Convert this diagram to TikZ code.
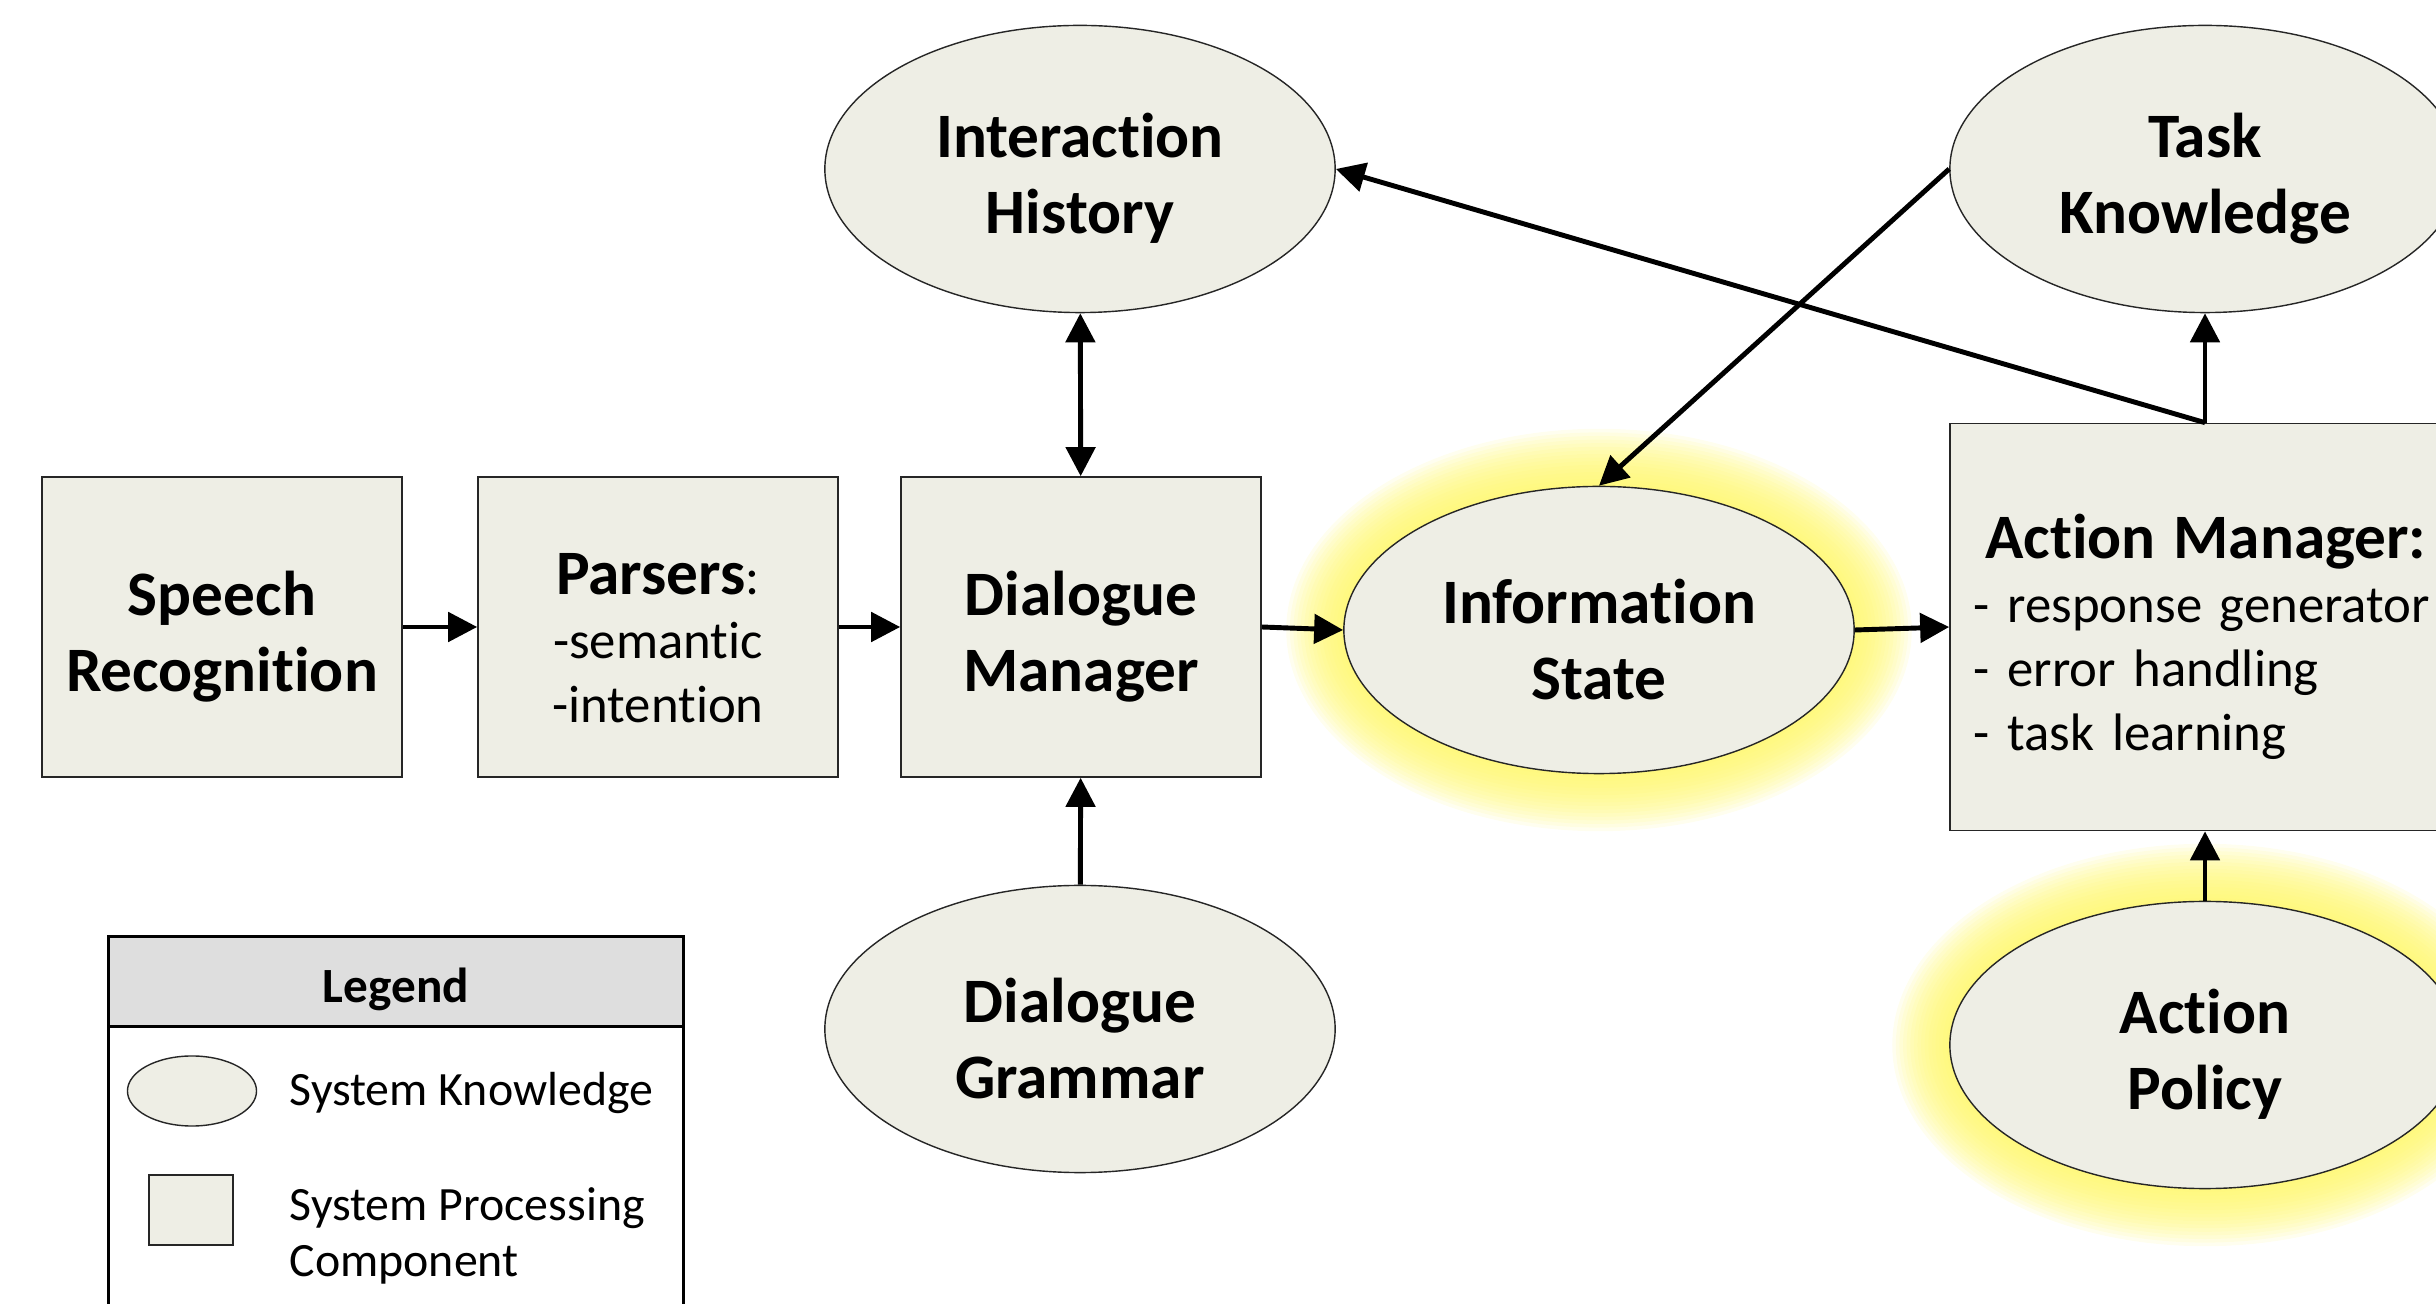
\documentclass[tikz,border=0pt]{standalone}
\usepackage{fontspec}
\setmainfont{Carlito}[Ligatures=NoCommon]
\usepackage{tikz}
\usetikzlibrary{shapes.geometric,arrows.meta}

\definecolor{boxfill}{RGB}{238,238,229}
\definecolor{legendhead}{RGB}{222,222,222}
\definecolor{glowyellow}{RGB}{255,247,100}

\newcommand{\bigbf}{\fontsize{18}{21.5}\selectfont\bfseries}
\newcommand{\midrm}{\fontsize{15}{18.2}\selectfont}
\newcommand{\legrm}{\fontsize{13.6}{15.9}\selectfont}

\begin{document}
\begin{tikzpicture}[x=0.01cm, y=-0.01cm,
    >={Triangle[length=0.29cm,width=0.29cm]},
    flow/.style={line width=1.4pt},
    lift/.style={execute at begin node={\rule{0pt}{#1}}},
    proc/.style={draw=black!85, line width=0.4pt, fill=boxfill, minimum width=3.6cm,
        minimum height=3cm, inner sep=0pt, text width=3.4cm, align=center},
    know/.style={ellipse, draw=black!85, line width=0.4pt, fill=boxfill, minimum width=5.1cm,
        minimum height=2.87cm, inner sep=0pt, text width=3.4cm, align=center}]
\useasboundingbox (0,0) rectangle (2436,1304);
\clip (0,0) rectangle (2436,1304);
% Glow round the highlighted ellipses
\foreach \cx/\cy in {1599/630, 2205/1045} {
    \foreach \g in {1,...,16}
        \fill[glowyellow, opacity=0.1] (\cx,\cy) ellipse [x radius={2.55cm+\g*0.036cm}, y radius={1.435cm+\g*0.036cm}];
}
% Processing components
\node[proc, lift=18pt, font=\bigbf] (sr) at (222,627) {Speech\\Recognition};
\node[proc, lift=18pt, font=\midrm] (pa) at (658,627) {{\bigbf Parsers}:\\-semantic\\-intention};
\node[proc, lift=18pt, font=\bigbf] (dm) at (1081,627) {Dialogue\\Manager};
\node[proc, lift=18pt, minimum width=5.1cm, minimum height=4.07cm, text width=4.62cm, align=left, font=\midrm]
    (am) at (2205,627) {\hspace*{0.22em}{\bigbf Action Manager:}\\- response generator\\- error handling\\- task learning};
% Knowledge sources
\node[know, lift=18pt, font=\bigbf] (ih) at (1080,169) {Interaction\\History};
\node[know, lift=18pt, font=\bigbf] (dg) at (1080,1029) {Dialogue\\Grammar};
\node[know, lift=18pt, font=\bigbf] (is) at (1599,630) {Information\\State};
\node[know, lift=18pt, font=\bigbf] (tk) at (2205,169) {Task\\Knowledge};
\node[know, lift=18pt, font=\bigbf] (ap) at (2205,1045) {Action\\Policy};
% Arrows
\draw[flow, ->] (sr) -- (pa);
\draw[flow, ->] (pa) -- (dm);
\draw[flow, <->] (ih) -- (dm);
\draw[flow, ->] (dg) -- (dm);
\draw[flow, ->] (dm.east) -- (is.west);
\draw[flow, ->] (is.east) -- (am.west);
\draw[flow, ->] (tk.west) -- (is.north);
\draw[flow, ->] (am.north) -- (ih.east);
\draw[flow, ->] (am.north) -- (tk.south);
\draw[flow, ->] (ap.north) -- (am.south);
% Legend
\node[draw, line width=0.9pt, fill=white, minimum width=5.75cm, minimum height=4.1cm, anchor=north]
    (lg) at (396,935) {};
\node[draw, line width=0.9pt, fill=legendhead, minimum width=5.75cm, minimum height=0.9cm,
    anchor=north, lift=14pt, font=\fontsize{14}{16}\selectfont\bfseries] (lh) at (lg.north) {Legend};
\node[know, text width=, minimum width=1.29cm, minimum height=0.7cm] (lk) at (192,1091) {};
\node[proc, text width=, minimum width=0.84cm, minimum height=0.7cm] (lp) at (191,1210) {};
\node[anchor=west, inner sep=0pt, font=\legrm] (lkt) at (289,1093) {System Knowledge};
\node[anchor=west, inner sep=0pt, align=left, font=\legrm] (lpt) at (289,1236) {System Processing\\Component};
\end{tikzpicture}
\end{document}
